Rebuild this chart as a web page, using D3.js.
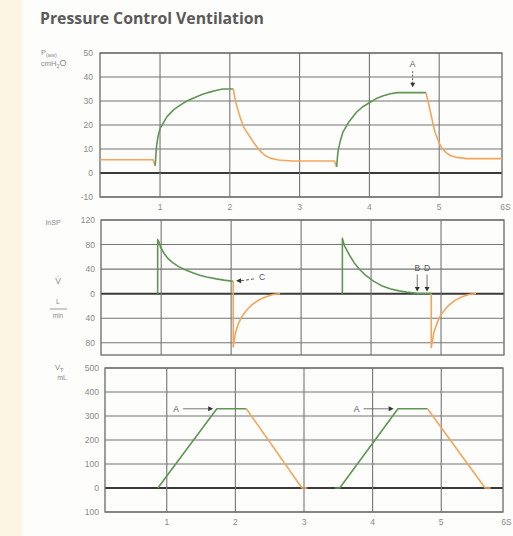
<!DOCTYPE html>
<html><head><meta charset="utf-8">
<script src="https://cdn.jsdelivr.net/npm/d3@7"></script>
<style>html,body{margin:0;padding:0;background:#fdfdfb;}svg{display:block;}</style>
</head><body>
<script>
// ---------- data ----------
const title = "Pressure Control Ventilation";
const timeGrid = [1, 2, 3, 4, 5];
const timeLabels = ["1", "2", "3", "4", "5", "6S"];
const timeLabelAt = [1, 2, 3, 4, 5, 5.95];

const pressureTicks = [50, 40, 30, 20, 10, 0, -10];
const pressureTickLabels = ["50", "40", "30", "20", "10", "0", "-10"];
const flowTicks = [120, 80, 40, 0, -40, -80];
const flowTickLabels = ["120", "80", "40", "0", "40", "80"];
const volumeTicks = [500, 400, 300, 200, 100, 0, -100];
const volumeTickLabels = ["500", "400", "300", "200", "100", "0", "100"];

// pressure (cmH2O) vs time (s)
const pressureExp0 = [[0.14,5.5],[0.9,5.5],[0.93,3]];
const pressureInsp1 = [[0.93,3],[0.95,11],[0.97,15],[1.0,18.5],[1.1,23.5],[1.2,26.5],[1.3,28.5],[1.4,30.2],[1.5,31.5],[1.6,32.7],[1.7,33.6],[1.8,34.4],[1.9,35],[2.05,35]];
const pressureExp1 = [[2.05,35],[2.08,30],[2.12,26],[2.15,23],[2.2,19],[2.29,15],[2.36,12],[2.43,9.3],[2.5,7.4],[2.58,6.2],[2.7,5.4],[2.9,5],[3.5,5],[3.53,2.5]];
const pressureInsp2 = [[3.53,2.5],[3.55,9],[3.58,13],[3.62,17],[3.7,21],[3.82,25.5],[3.9,27.5],[4.01,29.5],[4.1,31],[4.2,32.2],[4.3,33],[4.4,33.5],[4.81,33.5]];
const pressureExp2 = [[4.81,33.5],[4.84,30],[4.87,26],[4.9,22],[4.94,17],[5.0,12.5],[5.04,10.3],[5.1,8.5],[5.16,7.3],[5.25,6.5],[5.4,6],[5.9,6]];

// flow (L/min) vs time (s)
const flowInsp1 = [[0.95,0],[0.95,88],[0.97,84],[0.99,76],[1.05,64],[1.1,57],[1.16,51],[1.25,44],[1.36,38],[1.45,34],[1.55,30],[1.65,27],[1.79,24],[1.9,22],[2.03,20]];
const flowExp1 = [[2.03,20],[2.03,-87],[2.06,-65],[2.1,-50],[2.15,-38],[2.22,-27],[2.3,-18],[2.4,-10],[2.5,-5],[2.6,-1.5],[2.7,0]];
const flowInsp2 = [[3.59,0],[3.59,90],[3.62,78],[3.69,63],[3.76,50],[3.84,39],[3.92,30],[4.04,20],[4.15,13],[4.27,8],[4.4,4.5],[4.51,2.5],[4.65,0.5],[4.86,0]];
const flowExp2 = [[4.86,0],[4.86,-88],[4.9,-62],[4.95,-46],[5.0,-34],[5.1,-20],[5.2,-11],[5.3,-5],[5.4,-1.5],[5.5,0]];

// volume (mL) vs time (s)
const volumeInsp1 = [[0.87,0],[1.73,330],[2.16,330]];
const volumeExp1 = [[2.16,330],[2.97,0],[3.05,0]];
const volumeInsp2 = [[3.45,0],[3.52,0],[4.37,330],[4.80,330]];
const volumeExp2 = [[4.80,330],[5.64,0],[5.72,0]];

// annotations: [time, value] of arrow tip
const pressureNotes = [{text:"A", t:4.62, v:34.5}];
const flowNotes = [{text:"C", t:2.07, v:21}, {text:"B", t:4.66, v:2}, {text:"D", t:4.8, v:2}];
const volumeNotes = [{text:"A", t:1.72, v:330}, {text:"A", t:4.35, v:330}];

// ---------- drawing ----------
const W = 513, H = 536;
const GREEN = "#5f9654", ORANGE = "#f3a65c", GRID = "#757575", TXT = "#8a8a8a";
const svg = d3.select("body").append("svg").attr("width", W).attr("height", H);
svg.append("rect").attr("width", W).attr("height", H).attr("fill", "#fdfdfb");
svg.append("rect").attr("width", 22).attr("height", H).attr("fill", "#fdf5e3");

svg.append("text").attr("x", 40).attr("y", 24).text(title)
  .attr("font-family", "'Open Sans', 'DejaVu Sans', sans-serif").attr("font-weight", 700)
  .attr("font-size", 15.8).attr("fill", "#5a5a5a");

const line = (x, y) => d3.line().x(d => x(d[0])).y(d => y(d[1]));

function panel(o) {
  const x = d3.scaleLinear().domain([o.t0, 5.9]).range([o.left, o.right]);
  const y = d3.scaleLinear().domain(o.yDomain).range([o.bottom, o.top]);
  const g = svg.append("g");
  g.selectAll("line.h").data(o.ticks).join("line")
    .attr("x1", o.left).attr("x2", o.right)
    .attr("y1", d => y(d)).attr("y2", d => y(d))
    .attr("stroke", d => d === 0 ? "#3a3a3a" : GRID)
    .attr("stroke-width", d => d === 0 ? 2 : 1.1);
  g.selectAll("line.v").data(timeGrid).join("line")
    .attr("x1", d => x(d)).attr("x2", d => x(d))
    .attr("y1", o.top).attr("y2", o.bottom)
    .attr("stroke", GRID).attr("stroke-width", 1.1);
  g.append("rect").attr("x", o.left).attr("y", o.top)
    .attr("width", o.right - o.left).attr("height", o.bottom - o.top)
    .attr("fill", "none").attr("stroke", "#6a6a6a").attr("stroke-width", 1.3);
  const yAxis = d3.axisLeft(y).tickValues(o.ticks).tickSize(0).tickPadding(o.tickPad)
    .tickFormat((d, i) => o.tickLabels[i]);
  const ya = g.append("g").attr("transform", `translate(${o.left},0)`).call(yAxis);
  ya.select(".domain").remove();
  ya.selectAll("text").attr("fill", TXT).attr("font-size", 8.5)
    .attr("font-family", "'Liberation Sans', Arial, sans-serif");
  if (o.xLabels) {
    g.selectAll("text.xl").data(timeLabels).join("text")
      .attr("x", (d, i) => x(timeLabelAt[i])).attr("y", o.bottom + 13)
      .attr("text-anchor", "middle").attr("fill", TXT).attr("font-size", 8.5)
      .attr("font-family", "'Liberation Sans', Arial, sans-serif").text(d => d);
  }
  o.series.forEach(s => {
    g.append("path").datum(s.data).attr("d", line(x, y))
      .attr("fill", "none").attr("stroke", s.color).attr("stroke-width", 1.6)
      .attr("stroke-linejoin", "round");
  });
  return {x, y, g};
}

function arrowHead(g, px, py, dir) {
  let pts;
  if (dir === "down") pts = [[px, py], [px - 2.5, py - 4.5], [px + 2.5, py - 4.5]];
  else if (dir === "left") pts = [[px, py], [px + 5, py - 2.5], [px + 5, py + 2.5]];
  else pts = [[px, py], [px - 5, py - 2.5], [px - 5, py + 2.5]];
  g.append("path").attr("d", d3.line()(pts) + "Z").attr("fill", "#333");
}
const noteFont = s => s.attr("font-family", "'Liberation Sans', Arial, sans-serif")
  .attr("font-size", 8.5).attr("fill", "#555").attr("text-anchor", "middle");

// ---- pressure panel ----
const P = panel({left:100, right:502, top:53, bottom:197, t0:0.14, yDomain:[-10,50],
  ticks: pressureTicks, tickLabels: pressureTickLabels, tickPad: 7, xLabels: true,
  series: [
    {data: pressureExp0, color: ORANGE}, {data: pressureInsp1, color: GREEN},
    {data: pressureExp1, color: ORANGE}, {data: pressureInsp2, color: GREEN},
    {data: pressureExp2, color: ORANGE}]});
svg.append("text").attr("x", 41).attr("y", 55).attr("font-size", 7.5).attr("fill", TXT)
  .attr("font-family", "'Liberation Sans', Arial, sans-serif")
  .html('P<tspan font-size="5.5" dy="1.5">(aw)</tspan>');
svg.append("text").attr("x", 41).attr("y", 66).attr("font-size", 7.5).attr("fill", TXT)
  .attr("font-family", "'Liberation Sans', Arial, sans-serif")
  .html('cmH<tspan font-size="5.5" dy="1.5">2</tspan><tspan dy="-1.5" font-size="9">O</tspan>');
pressureNotes.forEach(n => {
  const px = P.x(n.t), py = P.y(n.v) - 3;
  P.g.append("text").attr("x", px).attr("y", py - 20).text(n.text).call(noteFont);
  P.g.append("line").attr("x1", px).attr("x2", px).attr("y1", py - 16).attr("y2", py - 4)
    .attr("stroke", "#555").attr("stroke-dasharray", "2,1.5");
  arrowHead(P.g, px, py, "down");
});

// ---- flow panel ----
const F = panel({left:101, right:504, top:220, bottom:355, t0:0.14, yDomain:[-100,120],
  ticks: flowTicks, tickLabels: flowTickLabels, tickPad: 6, xLabels: false,
  series: [
    {data: flowInsp1, color: GREEN}, {data: flowExp1, color: ORANGE},
    {data: flowInsp2, color: GREEN}, {data: flowExp2, color: ORANGE}]});
const lab = (x, y, t, fs) => svg.append("text").attr("x", x).attr("y", y).text(t)
  .attr("font-size", fs).attr("fill", TXT).attr("text-anchor", "middle")
  .attr("font-family", "'Liberation Sans', Arial, sans-serif");
lab(53, 225, "InSP", 7);
lab(58, 284, "V̇", 8.5);
lab(58, 304, "L", 7);
svg.append("line").attr("x1", 50).attr("x2", 67).attr("y1", 309).attr("y2", 309)
  .attr("stroke", "#999").attr("stroke-width", 1);
lab(58, 318, "min", 6.5);
flowNotes.forEach(n => {
  const px = F.x(n.t), py = F.y(n.v);
  if (n.text === "C") {
    arrowHead(F.g, px, py, "left");
    F.g.append("line").attr("x1", px + 5).attr("x2", px + 19).attr("y1", py).attr("y2", py - 2)
      .attr("stroke", "#555").attr("stroke-dasharray", "3,2");
    F.g.append("text").attr("x", px + 26).attr("y", py - 1).text(n.text).call(noteFont);
  } else {
    F.g.append("text").attr("x", px).attr("y", py - 21).text(n.text).call(noteFont);
    F.g.append("line").attr("x1", px).attr("x2", px).attr("y1", py - 18).attr("y2", py - 5)
      .attr("stroke", "#555").attr("stroke-width", 0.8);
    arrowHead(F.g, px, py - 1, "down");
  }
});

// ---- volume panel ----
const V = panel({left:105, right:503, top:368, bottom:512, t0:0.1, yDomain:[-100,500],
  ticks: volumeTicks, tickLabels: volumeTickLabels, tickPad: 6, xLabels: true,
  series: [
    {data: volumeInsp1, color: GREEN}, {data: volumeExp1, color: ORANGE},
    {data: volumeInsp2, color: GREEN}, {data: volumeExp2, color: ORANGE}]});
svg.append("text").attr("x", 55).attr("y", 370).attr("font-size", 7.5).attr("fill", TXT)
  .attr("font-family", "'Liberation Sans', Arial, sans-serif")
  .html('V<tspan font-size="5.5" dy="1.5">T</tspan>');
lab(62, 380, "mL", 7);
volumeNotes.forEach(n => {
  const px = V.x(n.t) - 3, py = V.y(n.v);
  arrowHead(V.g, px, py, "right");
  V.g.append("line").attr("x1", px - 5).attr("x2", px - 30).attr("y1", py).attr("y2", py)
    .attr("stroke", "#555").attr("stroke-width", 0.8);
  V.g.append("text").attr("x", px - 37).attr("y", py + 3).text(n.text).call(noteFont);
});
</script>
</body></html>
